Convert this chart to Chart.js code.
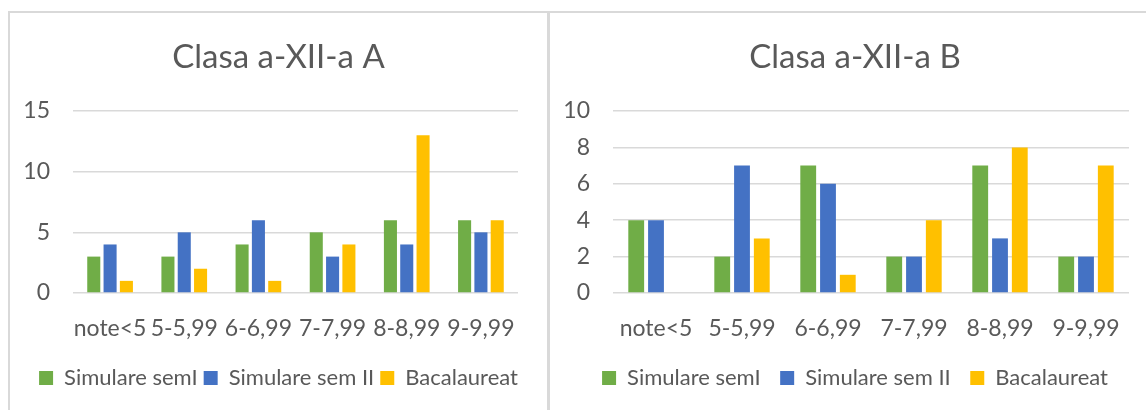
<!DOCTYPE html>
<html>
<head>
<meta charset="utf-8">
<script src="https://cdn.jsdelivr.net/npm/chart.js@4"></script>
<style>
  body { margin: 0; background: #fff; overflow: hidden; width: 1146px; height: 410px; position: relative; }
  .line { position: absolute; background: #d9d9d9; }
  canvas { position: absolute; }
</style>
</head>
<body>
<div class="line" style="left:8px;top:11px;width:1140px;height:2px"></div>
<div class="line" style="left:8px;top:11px;width:2px;height:400px"></div>
<div class="line" style="left:547px;top:11px;width:3px;height:400px"></div>
<canvas id="chartA" width="537" height="397" style="left:10px;top:13px"></canvas>
<canvas id="chartB" width="610" height="397" style="left:550px;top:13px"></canvas>
<script>
const categories = ['note<5', '5-5,99', '6-6,99', '7-7,99', '8-8,99', '9-9,99'];
const seriesNames = ['Simulare semI', 'Simulare sem II', 'Bacalaureat'];
const colors = ['#70AD47', '#4472C4', '#FFC000'];

// Clasa a-XII-a A
const semIA = [3, 3, 4, 5, 6, 6];
const semIIA = [4, 5, 6, 3, 4, 5];
const bacA = [1, 2, 1, 4, 13, 6];
const ticksA = [0, 5, 10, 15];

// Clasa a-XII-a B
const semIB = [4, 2, 7, 2, 7, 2];
const semIIB = [4, 7, 6, 2, 3, 2];
const bacB = [0, 3, 1, 4, 8, 7];
const ticksB = [0, 2, 4, 6, 8, 10];

const textColor = '#595959';
const gridColor = '#d9d9d9';
const fontFamily = 'Lato, "Open Sans", sans-serif';

function makeChart(id, title, series, ticks, opt) {
  const ctx = document.getElementById(id).getContext('2d');
  return new Chart(ctx, {
    type: 'bar',
    data: {
      labels: categories,
      datasets: series.map((vals, i) => ({
        label: seriesNames[i],
        data: vals,
        backgroundColor: colors[i],
        borderWidth: 0,
        categoryPercentage: opt.catPct,
        barPercentage: 0.8
      }))
    },
    options: {
      responsive: false,
      animation: false,
      devicePixelRatio: 1,
      layout: { padding: { left: 0, right: 0, top: 0, bottom: 11 } },
      scales: {
        x: {
          grid: { display: false },
          border: { display: false },
          ticks: { color: textColor, font: { family: fontFamily, size: 23 }, padding: 14, maxRotation: 0, autoSkip: false },
          afterFit: s => { s.height = opt.xHeight; }
        },
        y: {
          min: ticks[0],
          max: ticks[ticks.length - 1],
          afterBuildTicks: s => { s.ticks = ticks.map(v => ({ value: v })); },
          grid: { color: gridColor, lineWidth: 1.5, drawTicks: false },
          border: { display: false },
          ticks: { color: textColor, font: { family: fontFamily, size: 23 }, padding: 23 },
          afterFit: s => { s.width = 63; }
        },
        // empty right-hand gutter so the title and legend stay centred in the box
        gutter: {
          type: 'linear',
          position: 'right',
          grid: { display: false },
          border: { display: false },
          ticks: { display: false },
          afterFit: s => { s.width = opt.right; }
        }
      },
      plugins: {
        title: {
          display: true,
          text: title,
          color: textColor,
          font: { family: fontFamily, size: 33, weight: 'normal', lineHeight: 1.2 },
          padding: { top: 25, bottom: 33.4 }
        },
        legend: {
          position: 'bottom',
          labels: {
            color: textColor,
            font: { family: fontFamily, size: 22 },
            boxWidth: 14,
            boxHeight: 14,
            padding: opt.legendGap
          }
        },
        tooltip: { enabled: false }
      }
    }
  });
}

makeChart('chartA', 'Clasa a-XII-a A', [semIA, semIIA, bacA], ticksA,
  { catPct: 0.66, right: 29, xHeight: 68, legendGap: 6 });
makeChart('chartB', 'Clasa a-XII-a B', [semIB, semIIB, bacB], ticksB,
  { catPct: 0.69, right: 31, xHeight: 54.5, legendGap: 19.5 });
</script>
</body>
</html>
